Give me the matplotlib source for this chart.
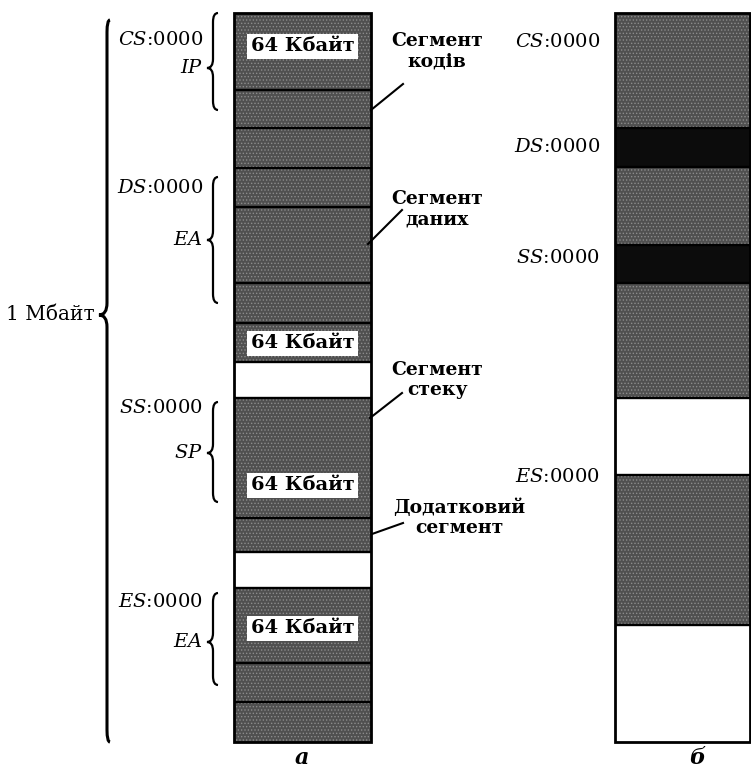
import matplotlib
matplotlib.use('Agg')
import matplotlib.pyplot as plt
from matplotlib.path import Path
from matplotlib.patches import PathPatch

plt.rcParams['font.family'] = ['DejaVu Serif']
plt.rcParams['mathtext.fontset'] = 'dejavuserif'
plt.rcParams['hatch.color'] = '#8c8c8c'
plt.rcParams['hatch.linewidth'] = 0.6

# column "а": band edges (top -> bottom) and fill of each band
a_edges = [13, 90, 128, 168, 207, 283, 323, 362, 398, 518, 552, 588, 663, 702, 742]
a_fill = ['d', 'd', 'd', 'd', 'd', 'd', 'd', 'w', 'd', 'd', 'w', 'd', 'd', 'd']
a_kb_rows = [46, 343, 485, 628]      # "64 Кбайт" labels
a_labels = ['$\\mathit{CS}$:0000', '$\\mathit{IP}$', '$\\mathit{DS}$:0000', '$\\mathit{EA}$',
            '$\\mathit{SS}$:0000', '$\\mathit{SP}$', '$\\mathit{ES}$:0000', '$\\mathit{EA}$']
a_label_rows = [40, 68, 188, 240, 408, 453, 602, 642]
a_braces = [(13, 110, 68), (177, 303, 240), (402, 502, 453), (593, 685, 642)]

# column "б"
b_edges = [13, 128, 167, 245, 283, 398, 475, 625, 742]
b_fill = ['d', 'k', 'd', 'k', 'd', 'w', 'd', 'w']
b_labels = ['$\\mathit{CS}$:0000', '$\\mathit{DS}$:0000', '$\\mathit{SS}$:0000', '$\\mathit{ES}$:0000']
b_label_rows = [42, 147, 258, 477]

# segment notes on the right of column "а"
notes = ['Сегмент\nкодів', 'Сегмент\nданих', 'Сегмент\nстеку', 'Додатковий\nсегмент']
note_rows = [51, 209, 380, 518]
note_x = [437, 437, 437, 459]
leader_from = [(371, 110), (368, 244), (370, 418), (372, 534)]
leader_to = [(403, 84), (402, 210), (402, 393), (403, 523)]

colors = {'d': '#505050', 'k': '#0c0c0c', 'w': 'white'}

fig = plt.figure(figsize=(7.51, 7.72), dpi=100)
ax = fig.add_axes([0, 0, 1, 1])
ax.set_xlim(0, 751)
ax.set_ylim(772, 0)
ax.axis('off')


def column(edges, fills, x0, x1):
    xc = (x0 + x1) / 2
    w = x1 - x0
    for top, bot, f in zip(edges[:-1], edges[1:], fills):
        ax.bar(xc, bot - top, bottom=top, width=w, color=colors[f],
               hatch='.....' if f == 'd' else None, linewidth=0)
    ax.hlines(edges[1:-1], x0, x1, color='black', lw=1.7)
    ax.bar(xc, edges[-1] - edges[0], bottom=edges[0], width=w, fill=False,
           edgecolor='black', linewidth=2)


def brace(x, y0, y1, ym, depth, curl, r, lw):
    verts = [(x + curl, y0), (x, y0), (x, y0 + r), (x, ym - r),
             (x, ym), (x - depth, ym), (x, ym), (x, ym + r),
             (x, y1 - r), (x, y1), (x + curl, y1)]
    codes = [Path.MOVETO, Path.CURVE3, Path.CURVE3, Path.LINETO,
             Path.CURVE3, Path.CURVE3, Path.CURVE3, Path.CURVE3,
             Path.LINETO, Path.CURVE3, Path.CURVE3]
    ax.add_patch(PathPatch(Path(verts, codes), fill=False, lw=lw, color='black'))


column(a_edges, a_fill, 234, 371)
column(b_edges, b_fill, 615, 750)

for y in a_kb_rows:
    ax.text(302.5, y, '64 Кбайт', ha='center', va='center', fontsize=14,
            fontweight='bold', bbox=dict(fc='white', ec='none', pad=2.5))

for s, y in zip(a_labels, a_label_rows):
    ax.text(203, y, s, ha='right', va='center', fontsize=14)
for s, y in zip(b_labels, b_label_rows):
    ax.text(600, y, s, ha='right', va='center', fontsize=14)

for y0, y1, ym in a_braces:
    brace(213, y0, y1, ym, 6, 5, 9, 1.6)
brace(107, 20, 742, 315, 8, 3, 12, 2.2)
ax.text(95, 315, '1 Мбайт', ha='right', va='center', fontsize=14.5)

for s, y, x in zip(notes, note_rows, note_x):
    ax.text(x, y, s, ha='center', va='center', fontsize=13.5, fontweight='bold',
            linespacing=1.15)
for p, q in zip(leader_from, leader_to):
    ax.plot([p[0], q[0]], [p[1], q[1]], color='black', lw=1.5)

ax.text(302, 758, 'а', ha='center', va='center', fontsize=16,
        fontstyle='italic', fontweight='bold')
ax.text(697, 758, 'б', ha='center', va='center', fontsize=16,
        fontstyle='italic', fontweight='bold')

fig.savefig('out.png', dpi=100)
